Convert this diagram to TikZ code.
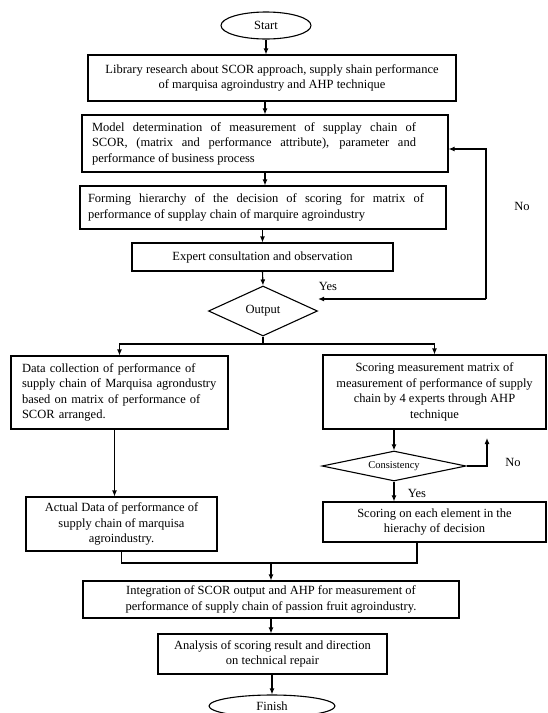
\documentclass[tikz,border=0pt]{standalone}
\usepackage{fontspec}
\setmainfont{Liberation Serif}
\usetikzlibrary{arrows.meta}
\usetikzlibrary{shapes.geometric}
\tikzset{>={Latex[length=6pt,width=5pt]}}
\tikzstyle{flowline}=[line width=1.1pt]
\tikzstyle{flowbox}=[draw,line width=1.1pt,inner sep=0pt,align=center,font=\fontsize{12.5}{15.5}\selectfont]
\tikzstyle{terminal}=[draw,ellipse,line width=1.1pt,inner sep=0pt,font=\fontsize{12.5}{15.5}\selectfont]
\tikzstyle{decision}=[draw,diamond,line width=1.1pt,inner sep=0pt,font=\fontsize{12.5}{15.5}\selectfont]
\tikzstyle{branchtext}=[inner sep=0pt,font=\fontsize{12.5}{15.5}\selectfont]
\newcommand{\justpar}[2]{\parbox{#1}{\spaceskip=0pt\xspaceskip=0pt #2}}

\begin{document}
\begin{tikzpicture}[x=1pt,y=-1pt]
  \useasboundingbox (0,0) rectangle (547,713);

  \node[terminal,minimum width=90pt,minimum height=27pt] (start) at (266,25.5) {Start};
  \node[flowbox,minimum width=368pt,minimum height=46pt] (lib) at (272,78) {Library research about SCOR approach, supply shain performance\\of marquisa agroindustry and AHP technique};
  \node[flowbox,align=left,text width=346pt,inner xsep=10pt,minimum height=57pt] (model) at (265,143.5) {\justpar{324pt}{Model determination of measurement of supplay chain of\linebreak SCOR, (matrix and performance attribute), parameter and\linebreak performance of business process}};
  \node[flowbox,align=left,text width=350pt,inner xsep=8pt,minimum height=43pt] (hie) at (263,207.5) {\justpar{336pt}{Forming hierarchy of the decision of scoring for matrix of\linebreak performance of supplay chain of marquire agroindustry}};
  \node[flowbox,minimum width=261pt,minimum height=28pt] (exp) at (262.5,257) {Expert consultation and observation};
  \node[decision,aspect=2.18,minimum width=109pt,minimum height=50pt] (out) at (263,311) {Output};

  \node[flowbox,align=left,text width=195pt,inner xsep=11pt,minimum height=73pt] (dc) at (119.5,392.5) {Data collection of performance of\\supply chain of Marquisa agrondustry\\based on matrix of performance of\\SCOR arranged.};
  \node[flowbox,minimum width=223pt,minimum height=74pt] (scm) at (434.5,392) {Scoring measurement matrix of\\measurement of performance of supply\\chain by 4 experts through AHP\\technique};
  \node[decision,aspect=4.8,minimum width=144pt,minimum height=30pt,font=\fontsize{10.5}{12}\selectfont] (cons) at (394,466) {Consistency};
  \node[flowbox,minimum width=191pt,minimum height=54pt] (act) at (121.5,524) {Actual Data of performance of\\supply chain of marquisa\\agroindustry.};
  \node[flowbox,minimum width=223pt,minimum height=40pt] (soe) at (434.5,522) {Scoring on each element in the\\hierachy of decision};

  \node[flowbox,minimum width=376pt,minimum height=37pt] (integ) at (271,599.5) {Integration of SCOR output and AHP for measurement of\\performance of supply chain of passion fruit agroindustry.};
  \node[flowbox,minimum width=229pt,minimum height=40pt] (ana) at (272.5,654) {Analysis of scoring result and direction\\on technical repair};
  \node[terminal,minimum width=126pt,minimum height=22pt] (finish) at (272,706) {Finish};

  \node[branchtext] (yes1) at (328,286) {Yes};
  \node[branchtext] (no1) at (522,206) {No};
  \node[branchtext] (no2) at (513,462) {No};
  \node[branchtext] (yes2) at (417,493) {Yes};

  % main column
  \draw[flowline,->] (start.south) -- (start.south |- lib.north);
  \draw[flowline,->] (model.north |- lib.south) -- (model.north);
  \draw[flowline,->] (model.south) -- (model.south |- hie.north);
  \draw[flowline,->] (exp.north |- hie.south) -- (exp.north);
  \draw[flowline,->] (exp.south) -- (out.north);
  % loop back
  \coordinate (loop) at (486,299);
  \draw[flowline,->] (loop) -- (loop -| out.east);
  \draw[flowline,->] (loop) |- ([yshift=-5.5pt]model.east);
  % two branches
  \coordinate (split) at (263,344);
  \draw[flowline] (out.south) -- (split);
  \draw[flowline,->] (split) -| (dc.north);
  \draw[flowline,->] (split) -| (scm.north);
  \draw[flowline,->] ([xshift=-5pt]dc.south) -- ([xshift=-5pt]dc.south |- act.north);
  \draw[flowline,->] (cons.north |- scm.south) -- (cons.north);
  \coordinate (recheck) at (487,438);
  \draw[flowline,->] (cons.east) -| (recheck);
  \draw[flowline,->] (cons.south) -- (cons.south |- soe.north);
  % join
  \coordinate (merge) at (271,563);
  \draw[flowline] (act.south) |- (merge);
  \draw[flowline] ([xshift=-17.5pt]soe.south) |- (merge);
  \draw[flowline,->] (merge) -- (integ.north);
  \draw[flowline,->] (integ.south) -- (integ.south |- ana.north);
  \draw[flowline,->] (finish.north |- ana.south) -- (finish.north);
\end{tikzpicture}
\end{document}
